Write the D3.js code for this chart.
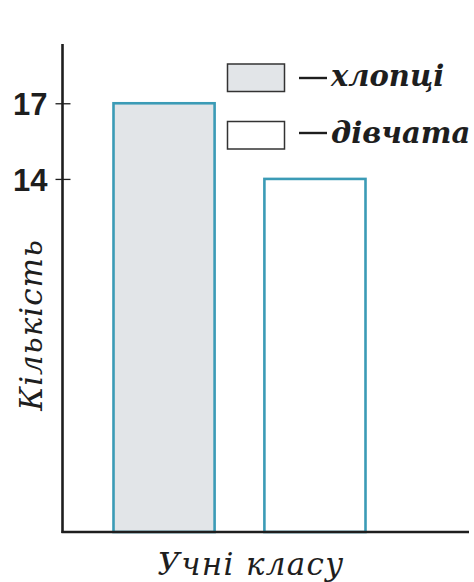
<!DOCTYPE html>
<html>
<head>
<meta charset="utf-8">
<script src="https://cdn.jsdelivr.net/npm/d3@7"></script>
<style>
  html, body { margin: 0; padding: 0; background: #fff; }
  svg { display: block; }
</style>
</head>
<body>
<svg id="chart" width="474" height="582"></svg>
<script>
// Кількість учнів класу: хлопці та дівчата
const categories = ["хлопці", "дівчата"];
const counts = [17, 14];
const tickValues = [14, 17];
const yTitle = "Кількість";
const xTitle = "Учні класу";

const fills = ["#e2e5e8", "#ffffff"];
const barStroke = "#3b9bb6";
const ink = "#1e1e1e";
const serif = "DejaVu Serif";

const svg = d3.select("#chart");

const originX = 62.5, originY = 532;
const y = d3.scaleLinear().domain([0, 19.35]).range([originY, 44]);
const x = d3.scaleBand().domain(categories).range([113.5, 365.5]).paddingInner(0.33).paddingOuter(0);

// Bars
svg.append("g").selectAll("rect")
  .data(categories)
  .join("rect")
  .attr("x", d => x(d))
  .attr("y", (d, i) => y(counts[i]))
  .attr("width", x.bandwidth())
  .attr("height", (d, i) => y(0) - y(counts[i]))
  .attr("fill", (d, i) => fills[i])
  .attr("stroke", barStroke)
  .attr("stroke-width", 2.6);

// Y axis
const yAxis = svg.append("g")
  .attr("transform", `translate(${originX},0)`)
  .call(d3.axisLeft(y).tickValues(tickValues).tickSizeInner(7).tickSizeOuter(0).tickPadding(10).tickFormat(d3.format("d")));
yAxis.select(".domain").remove();
yAxis.selectAll(".tick line").attr("stroke", ink).attr("stroke-width", 1.3).attr("x2", -7);
yAxis.selectAll(".tick").append("line")
  .attr("x1", 0).attr("x2", 8).attr("stroke", ink).attr("stroke-width", 1.3);
yAxis.selectAll(".tick text")
  .attr("fill", ink)
  .attr("font-family", "Liberation Sans, Arial, sans-serif")
  .attr("font-weight", "bold")
  .attr("font-size", 31)
  .attr("dy", "0.36em")
  .attr("x", -15);

// Axis lines
svg.append("line")
  .attr("x1", originX).attr("x2", originX)
  .attr("y1", y.range()[1]).attr("y2", originY + 1)
  .attr("stroke", ink).attr("stroke-width", 2.6);
svg.append("line")
  .attr("x1", originX - 1).attr("x2", 469)
  .attr("y1", originY).attr("y2", originY)
  .attr("stroke", ink).attr("stroke-width", 2.6);

// Axis titles
svg.append("text")
  .attr("transform", `translate(42,325) rotate(-90)`)
  .attr("text-anchor", "middle")
  .attr("font-family", serif)
  .attr("font-style", "italic")
  .attr("font-size", 31)
  .attr("letter-spacing", 1)
  .attr("fill", ink)
  .text(yTitle);

svg.append("text")
  .attr("x", 251).attr("y", 575)
  .attr("text-anchor", "middle")
  .attr("font-family", serif)
  .attr("font-style", "italic")
  .attr("font-size", 31)
  .attr("letter-spacing", 1.3)
  .attr("fill", ink)
  .text(xTitle);

// Legend
const legendRows = [
  { top: 64, dashY: 78, baseline: 86 },
  { top: 121.5, dashY: 133, baseline: 143 }
];
const legend = svg.append("g");
categories.forEach((c, i) => {
  const r = legendRows[i];
  legend.append("rect")
    .attr("x", 227.5).attr("y", r.top)
    .attr("width", 57).attr("height", 27.5)
    .attr("fill", fills[i])
    .attr("stroke", "#333").attr("stroke-width", 1.5);
  legend.append("line")
    .attr("x1", 299).attr("x2", 327)
    .attr("y1", r.dashY).attr("y2", r.dashY)
    .attr("stroke", ink).attr("stroke-width", 2.4);
  legend.append("text")
    .attr("x", 331).attr("y", r.baseline)
    .attr("font-family", serif)
    .attr("font-style", "italic")
    .attr("font-weight", "bold")
    .attr("font-size", 29)
    .attr("fill", ink)
    .text(c);
});
</script>
</body>
</html>
